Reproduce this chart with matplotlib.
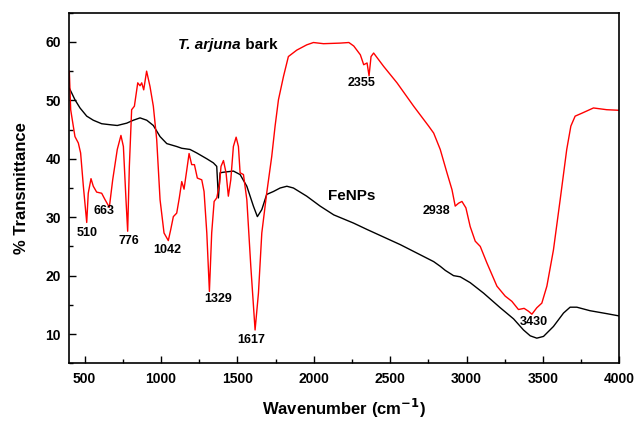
import numpy as np
import matplotlib
matplotlib.use("Agg")
import matplotlib.pyplot as plt
from matplotlib.ticker import MultipleLocator

plt.rcParams['font.family'] = ['Liberation Sans', 'DejaVu Sans']

# T. arjuna bark spectrum (wavenumber, %T)
bark_x = [400, 409, 426, 437, 459, 474, 492, 514, 524, 542, 557, 579, 612, 634, 662,
          684, 714, 738, 754, 771, 782, 793, 808, 826, 848, 863, 874, 887, 906, 928,
          950, 972, 994, 1020, 1048, 1064, 1081, 1103, 1120, 1136, 1151, 1169, 1184,
          1201, 1219, 1238, 1267, 1282, 1300, 1317, 1332, 1348, 1365, 1383, 1393, 1409,
          1426, 1441, 1457, 1474, 1492, 1507, 1518, 1540, 1562, 1588, 1616, 1638, 1660,
          1692, 1725, 1747, 1769, 1802, 1834, 1889, 1954, 1998, 2064, 2173, 2230, 2262,
          2305, 2327, 2349, 2362, 2375, 2392, 2458, 2545, 2654, 2752, 2785, 2828, 2872,
          2905, 2926, 2948, 2970, 2996, 3024, 3057, 3090, 3133, 3199, 3253, 3297, 3340,
          3377, 3406, 3428, 3460, 3493, 3526, 3569, 3613, 3656, 3683, 3711, 3755, 3831,
          3918, 4000]
bark_y = [55.0, 48.4, 45.6, 43.8, 42.7, 41.0, 35.3, 29.1, 34.1, 36.6, 35.3, 34.3, 34.1,
          33.0, 31.7, 36.4, 41.6, 44.0, 42.1, 33.0, 27.6, 38.7, 48.4, 49.0, 53.0, 52.5,
          53.0, 51.8, 55.0, 52.4, 49.0, 43.3, 33.0, 27.3, 26.0, 27.9, 30.1, 30.7, 33.3,
          36.1, 34.8, 38.1, 40.9, 39.0, 39.0, 36.7, 36.4, 34.4, 27.3, 17.3, 27.3, 32.7,
          33.3, 35.6, 38.7, 39.7, 37.6, 33.6, 36.4, 42.1, 43.7, 42.1, 37.6, 37.3, 33.0,
          21.6, 10.7, 17.0, 27.3, 34.1, 40.4, 45.6, 50.1, 54.1, 57.5, 58.6, 59.5, 59.9,
          59.7, 59.8, 59.9, 59.3, 57.8, 56.1, 56.4, 54.2, 57.5, 58.1, 55.8, 53.0, 49.0,
          45.6, 44.4, 41.6, 37.6, 34.7, 31.9, 32.4, 32.7, 31.6, 28.4, 25.9, 25.0, 22.2,
          18.2, 16.5, 15.6, 14.2, 14.4, 13.9, 13.4, 14.5, 15.3, 18.2, 24.4, 33.0, 41.6,
          45.6, 47.3, 47.8, 48.7, 48.4, 48.3]

# FeNPs spectrum
fe_x = [400, 415, 437, 470, 514, 557, 612, 677, 714, 776, 819, 863, 907, 950, 994,
        1038, 1103, 1136, 1190, 1234, 1300, 1343, 1365, 1376, 1387, 1409, 1474, 1518,
        1562, 1605, 1631, 1660, 1692, 1736, 1780, 1824, 1867, 1954, 2042, 2131, 2260,
        2349, 2567, 2785, 2828, 2861, 2915, 2959, 3024, 3112, 3221, 3308, 3373, 3417,
        3460, 3504, 3569, 3635, 3678, 3722, 3808, 3917, 4000]
fe_y = [52.1, 51.3, 50.1, 48.7, 47.3, 46.6, 46.0, 45.8, 45.7, 46.1, 46.6, 47.0, 46.6,
        45.7, 43.8, 42.6, 42.1, 41.8, 41.6, 41.0, 40.0, 39.3, 38.7, 33.3, 37.6, 37.7,
        37.9, 37.3, 35.3, 31.9, 30.1, 31.3, 33.9, 34.4, 35.0, 35.3, 35.0, 33.6, 31.9,
        30.4, 29.0, 27.9, 25.3, 22.4, 21.6, 20.9, 20.0, 19.8, 18.8, 17.0, 14.5, 12.6,
        10.7, 9.7, 9.3, 9.6, 11.3, 13.6, 14.6, 14.6, 14.0, 13.5, 13.1]

# peak labels: text, x, y
peak_labels = ['510', '663', '776', '1042', '1329', '1617', '2355', '2938', '3430']
peak_x = [520, 629, 793, 1044, 1372, 1588, 2316, 2806, 3438]
peak_y = [27.3, 31.0, 26.0, 24.4, 16.0, 8.9, 53.0, 31.1, 12.05]

fig = plt.figure(figsize=(6.37, 4.24), dpi=100)
ax = fig.add_axes([0.1088, 0.1432, 0.8634, 0.8268])

ax.plot(fe_x, fe_y, color='black', lw=1.0)
ax.plot(bark_x, bark_y, color='red', lw=1.0)

ax.set_xlim(400, 4000)
ax.set_ylim(5, 65)
ax.xaxis.set_major_locator(MultipleLocator(500))
ax.xaxis.set_minor_locator(MultipleLocator(250))
ax.yaxis.set_major_locator(MultipleLocator(10))
ax.yaxis.set_minor_locator(MultipleLocator(5))
ax.tick_params(which='both', direction='in', top=False, right=False, width=1.0)
ax.tick_params(which='major', length=5, labelsize=10, pad=6)
ax.tick_params(which='minor', length=3)
for lab in ax.get_xticklabels() + ax.get_yticklabels():
    lab.set_fontweight('bold')
for sp in ax.spines.values():
    sp.set_linewidth(1.2)

for t, x, y in zip(peak_labels, peak_x, peak_y):
    ax.text(x, y, t, fontsize=9, fontweight='bold', ha='center', va='center')

# sample names
ax.text(1524, 59.4, 'T. arjuna', fontsize=11, fontweight='bold', style='italic',
        ha='right', va='center')
ax.text(1524, 59.4, ' bark', fontsize=11, fontweight='bold', ha='left', va='center')
ax.text(2250, 33.7, 'FeNPs', fontsize=11, fontweight='bold', ha='center', va='center')

ax.set_xlabel('Wavenumber (cm$^{\\mathbf{-1}}$)', fontsize=12, fontweight='bold', labelpad=8)
ax.set_ylabel('% Transmittance', fontsize=12, fontweight='bold', labelpad=12)

fig.savefig('out.png', dpi=100)
